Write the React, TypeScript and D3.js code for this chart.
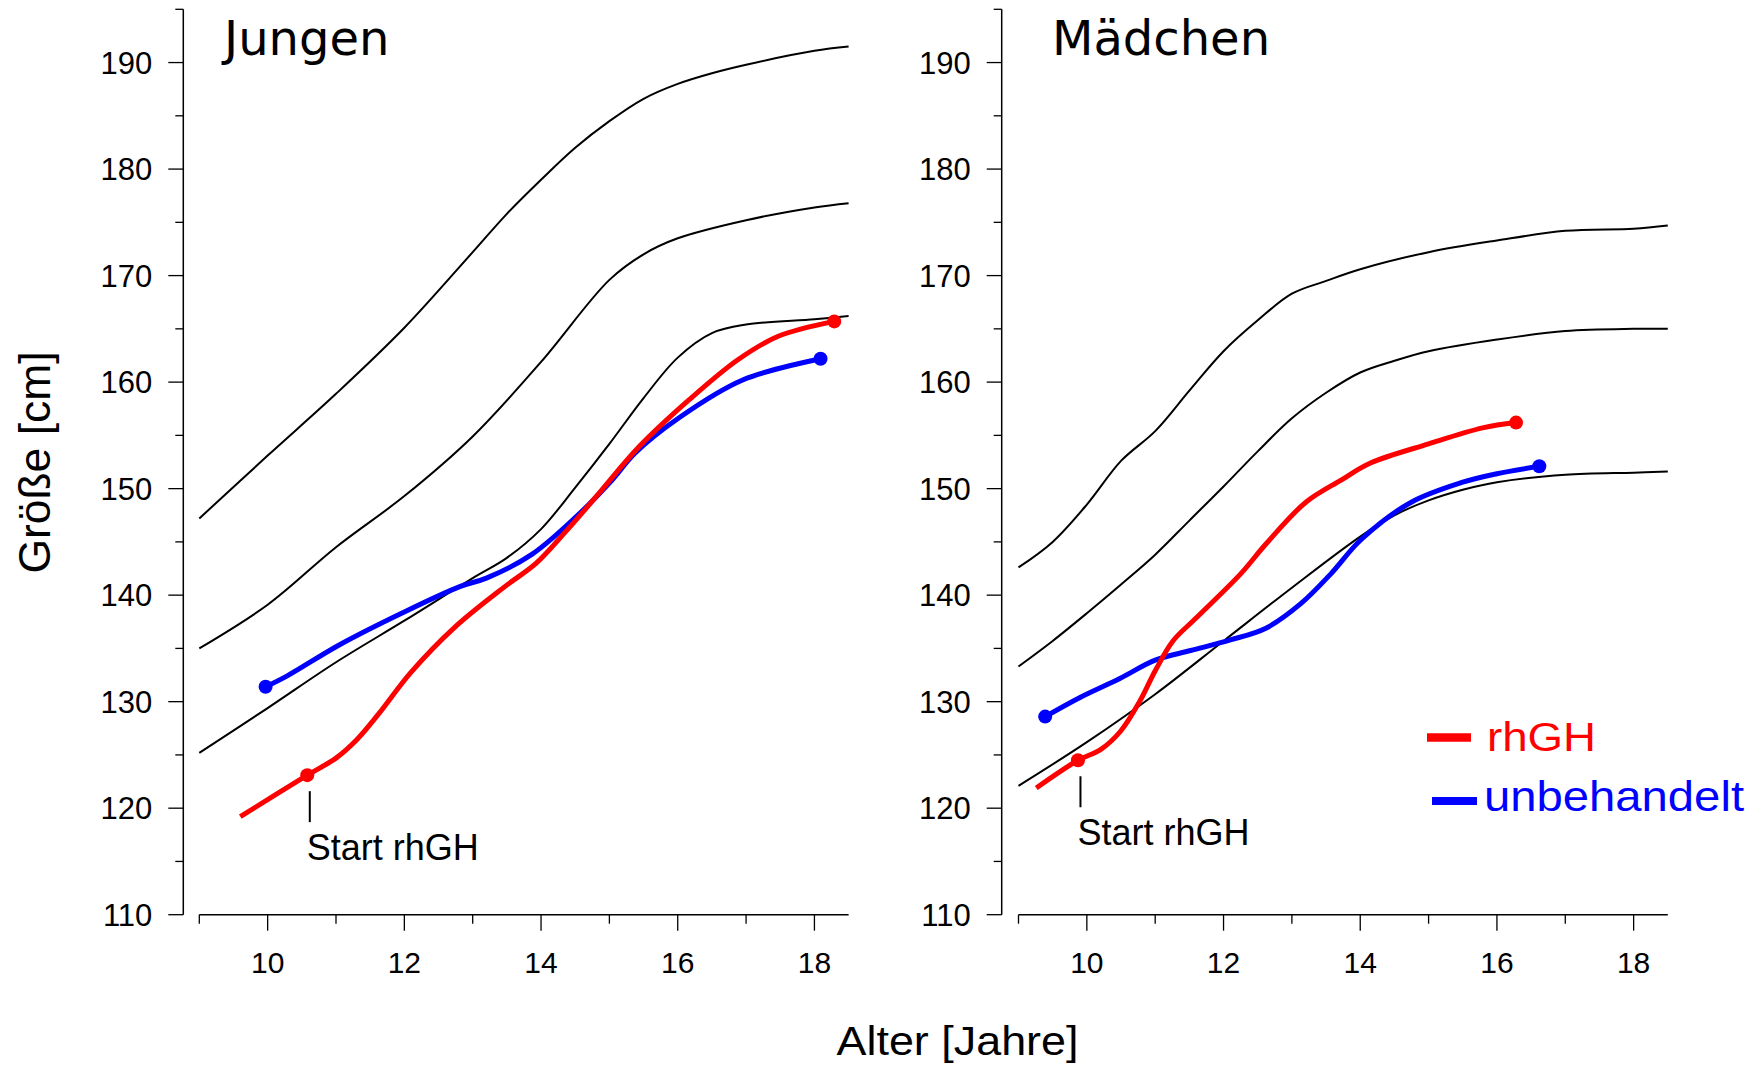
import React from "react";
import * as d3 from "d3";

// ---------- data (age in years, height in cm) ----------
const boysP97: [number, number][] = [
  [9, 147.2], [10, 153.1], [11, 158.9], [12, 165.1], [13, 172.2], [13.5, 175.8],
  [14, 179.0], [14.5, 182.0], [15, 184.5], [15.5, 186.6], [16, 188.0], [16.5, 189.0],
  [17, 189.8], [18, 191.1], [18.5, 191.5],
];
const boysP50: [number, number][] = [
  [9, 135.0], [10, 139.1], [11, 144.5], [12, 149.3], [13, 154.9], [14, 161.9],
  [15, 169.6], [15.5, 172.0], [16, 173.5], [17, 175.2], [18, 176.4], [18.5, 176.8],
];
const boysP3: [number, number][] = [
  [9, 125.2], [10, 129.4], [11, 133.7], [12, 137.6], [13, 141.6], [13.5, 143.5],
  [14, 146.2], [14.5, 150.1], [15, 154.2], [15.5, 158.5], [16, 162.3], [16.5, 164.6],
  [17, 165.4], [18, 165.9], [18.5, 166.2],
];
const boysRhGH: [number, number][] = [
  [9.6, 119.2], [10.58, 123.1], [11.0, 124.7], [11.3, 126.4], [11.63, 128.9],
  [12.09, 132.7], [12.74, 137.0], [13.47, 140.8], [13.93, 143.0], [14.38, 146.1],
  [14.84, 149.5], [15.43, 153.9], [16.16, 158.3], [16.88, 162.1], [17.47, 164.3],
  [18.29, 165.7],
];
const boysUntreated: [number, number][] = [
  [9.97, 131.4], [10.28, 132.4], [11.04, 135.3], [11.96, 138.3], [12.81, 140.8],
  [13.2, 141.6], [13.86, 143.8], [14.52, 147.4], [15.04, 150.8], [15.37, 153.3],
  [16.03, 156.7], [16.95, 160.2], [18.09, 162.2],
];

const girlsP97: [number, number][] = [
  [9, 142.6], [9.5, 145.0], [10, 148.5], [10.5, 152.6], [11, 155.4], [11.5, 159.2],
  [12, 162.9], [12.5, 165.8], [13, 168.3], [13.5, 169.5], [14, 170.6], [15, 172.2],
  [16, 173.3], [17, 174.2], [18, 174.4], [18.5, 174.7],
];
const girlsP50: [number, number][] = [
  [9, 133.3], [9.5, 135.7], [10, 138.3], [10.5, 141.0], [11, 143.8], [11.5, 147.0],
  [12, 150.2], [12.5, 153.5], [13, 156.6], [13.5, 159.0], [14, 160.9], [14.5, 162.0],
  [15, 162.9], [16, 164.0], [17, 164.8], [18, 165.0], [18.5, 165.0],
];
const girlsP3: [number, number][] = [
  [9, 122.1], [10, 126.2], [11, 130.7], [12, 135.7], [13, 140.7], [14, 145.5],
  [14.5, 147.5], [15, 148.9], [15.5, 149.9], [16, 150.6], [17, 151.3], [18, 151.5],
  [18.5, 151.6],
];
const girlsRhGH: [number, number][] = [
  [9.26, 121.9], [9.87, 124.5], [10.2, 125.5], [10.49, 127.2], [10.78, 130.1],
  [11.0, 132.9], [11.26, 135.7], [11.59, 137.8], [12.25, 142.0], [12.62, 144.8],
  [13.2, 148.7], [13.72, 150.8], [14.15, 152.4], [15.0, 154.2], [15.79, 155.7],
  [16.28, 156.2],
];
const girlsUntreated: [number, number][] = [
  [9.39, 128.6], [9.9, 130.4], [10.49, 132.2], [11.0, 133.9], [11.52, 134.8],
  [12.1, 135.8], [12.62, 136.9], [13.13, 139.2], [13.57, 142.0], [14.01, 145.2],
  [14.74, 148.7], [15.5, 150.6], [16.0, 151.4], [16.62, 152.1],
];

// marker points: treatment start / end points
const boysRhGHMarkers: [number, number][] = [[10.58, 123.1], [18.29, 165.7]];
const boysUntreatedMarkers: [number, number][] = [[9.97, 131.4], [18.09, 162.2]];
const girlsRhGHMarkers: [number, number][] = [[9.87, 124.5], [16.28, 156.2]];
const girlsUntreatedMarkers: [number, number][] = [[9.39, 128.6], [16.62, 152.1]];

const panelTitles = ["Jungen", "Mädchen"];
const xTickValues = [9, 10, 11, 12, 13, 14, 15, 16, 17, 18];
const yTickValues = d3.range(110, 196, 5);
const legendLabels = ["rhGH", "unbehandelt"];

const RED = "#ff0000";
const BLUE = "#0000ff";
const SANS = "'Liberation Sans', Arial, sans-serif";

const W = 1762;
const H = 1068;

const yScale = d3.scaleLinear().domain([110, 195]).range([914.7, 9.3]);

type PanelProps = {
  title: string;
  yAxisX: number;
  x0: number;
  titleX: number;
  percentiles: [number, number][][];
  rhgh: [number, number][];
  untreated: [number, number][];
  rhghMarkers: [number, number][];
  untreatedMarkers: [number, number][];
};

function Panel(p: PanelProps) {
  const xScale = d3.scaleLinear().domain([9, 18.5]).range([p.x0, p.x0 + 649.3]);
  const line = d3
    .line<[number, number]>()
    .x((d) => xScale(d[0]))
    .y((d) => yScale(d[1]))
    .curve(d3.curveCatmullRom.alpha(0.5));
  const yBottom = yScale(110);
  const start = p.rhghMarkers[0];
  const sx = xScale(start[0]) + 2.5;
  const sy = yScale(start[1]);
  return (
    <g>
      {/* y axis */}
      <line x1={p.yAxisX} x2={p.yAxisX} y1={yScale(195)} y2={yBottom} stroke="#000" strokeWidth={1.5} />
      {yTickValues.map((v) => {
        const major = v % 10 === 0;
        return (
          <g key={"y" + v}>
            <line
              x1={p.yAxisX - (major ? 15 : 8)}
              x2={p.yAxisX}
              y1={yScale(v)}
              y2={yScale(v)}
              stroke="#000"
              strokeWidth={1.3}
            />
            {major && (
              <text
                x={p.yAxisX - 31}
                y={yScale(v)}
                dy="0.36em"
                textAnchor="end"
                fontFamily={SANS}
                fontSize={31}
              >
                {v}
              </text>
            )}
          </g>
        );
      })}
      {/* x axis */}
      <line x1={xScale(9)} x2={xScale(18.5)} y1={yBottom} y2={yBottom} stroke="#000" strokeWidth={1.5} />
      {xTickValues.map((v) => {
        const major = v % 2 === 0;
        return (
          <g key={"x" + v}>
            <line
              x1={xScale(v)}
              x2={xScale(v)}
              y1={yBottom}
              y2={yBottom + (major ? 16 : 9)}
              stroke="#000"
              strokeWidth={1.3}
            />
            {major && (
              <text x={xScale(v)} y={973} textAnchor="middle" fontFamily={SANS} fontSize={30}>
                {v}
              </text>
            )}
          </g>
        );
      })}
      {/* percentile curves */}
      {p.percentiles.map((c, i) => (
        <path key={"p" + i} d={line(c) || ""} fill="none" stroke="#000" strokeWidth={2} />
      ))}
      {/* series */}
      <path d={line(p.untreated) || ""} fill="none" stroke={BLUE} strokeWidth={5} strokeLinecap="butt" />
      <path d={line(p.rhgh) || ""} fill="none" stroke={RED} strokeWidth={5} strokeLinecap="butt" />
      {p.untreatedMarkers.map((m, i) => (
        <circle key={"bm" + i} cx={xScale(m[0])} cy={yScale(m[1])} r={7} fill={BLUE} />
      ))}
      {p.rhghMarkers.map((m, i) => (
        <circle key={"rm" + i} cx={xScale(m[0])} cy={yScale(m[1])} r={7} fill={RED} />
      ))}
      {/* start annotation */}
      <line x1={sx} x2={sx} y1={sy + 16} y2={sy + 47} stroke="#000" strokeWidth={2} />
      <text x={sx - 3} y={sy + 84.5} fontFamily={SANS} fontSize={36}>
        Start rhGH
      </text>
      {/* title */}
      <text x={p.titleX} y={55} fontFamily="'DejaVu Sans', Verdana, sans-serif" fontSize={48}>
        {p.title}
      </text>
    </g>
  );
}

export default function App() {
  return (
    <div style={{ position: "absolute", left: 0, top: 0 }}>
      <svg width={W} height={H} viewBox={`0 0 ${W} ${H}`} style={{ display: "block", background: "#fff" }}>
        <rect x={0} y={0} width={W} height={H} fill="#fff" />
        <Panel
          title={panelTitles[0]}
          yAxisX={183.3}
          x0={199.3}
          titleX={224}
          percentiles={[boysP97, boysP50, boysP3]}
          rhgh={boysRhGH}
          untreated={boysUntreated}
          rhghMarkers={boysRhGHMarkers}
          untreatedMarkers={boysUntreatedMarkers}
        />
        <Panel
          title={panelTitles[1]}
          yAxisX={1001.7}
          x0={1018.5}
          titleX={1052}
          percentiles={[girlsP97, girlsP50, girlsP3]}
          rhgh={girlsRhGH}
          untreated={girlsUntreated}
          rhghMarkers={girlsRhGHMarkers}
          untreatedMarkers={girlsUntreatedMarkers}
        />
        {/* axis labels */}
        <text
          transform={`translate(50,462.5) rotate(-90)`}
          textAnchor="middle"
          fontFamily={SANS}
          fontSize={45}
          textLength={222}
          lengthAdjust="spacingAndGlyphs"
        >
          Größe [cm]
        </text>
        <text
          x={957.5}
          y={1055}
          textAnchor="middle"
          fontFamily={SANS}
          fontSize={41}
          textLength={242}
          lengthAdjust="spacingAndGlyphs"
        >
          Alter [Jahre]
        </text>
        {/* legend */}
        <line x1={1427} x2={1471} y1={737.5} y2={737.5} stroke={RED} strokeWidth={8.5} />
        <text
          x={1487}
          y={750.5}
          fontFamily={SANS}
          fontSize={40}
          fill={RED}
          textLength={109}
          lengthAdjust="spacingAndGlyphs"
        >
          {legendLabels[0]}
        </text>
        <line x1={1432} x2={1477} y1={801} y2={801} stroke={BLUE} strokeWidth={8} />
        <text
          x={1484}
          y={810.5}
          fontFamily={SANS}
          fontSize={43}
          fill={BLUE}
          textLength={260}
          lengthAdjust="spacingAndGlyphs"
        >
          {legendLabels[1]}
        </text>
      </svg>
    </div>
  );
}
